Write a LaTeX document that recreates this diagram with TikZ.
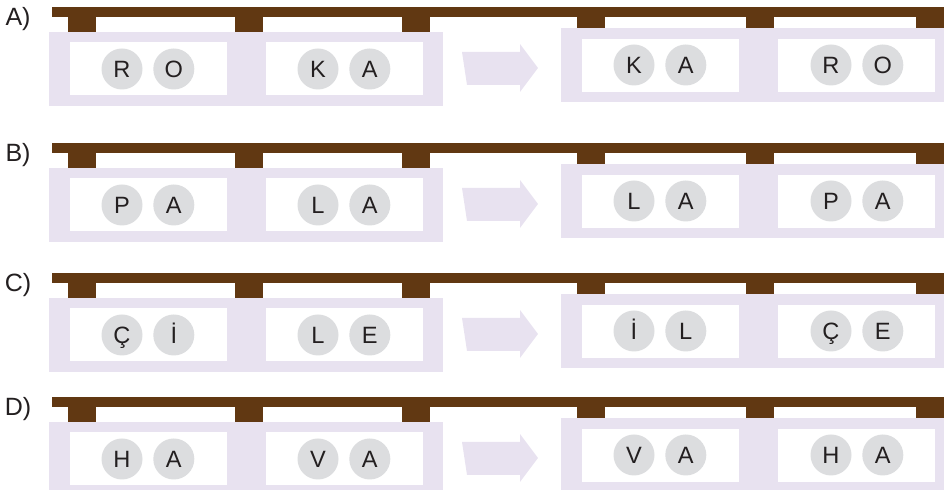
\documentclass[tikz,border=0pt]{standalone}
\usepackage{fontspec}
\setmainfont{Liberation Sans}
\usetikzlibrary{positioning}
\definecolor{beam}{RGB}{97,56,18}
\definecolor{frame}{RGB}{232,226,240}
\definecolor{chip}{RGB}{220,221,223}
\definecolor{ink}{RGB}{35,31,32}
\tikzset{
  beamline/.style={fill=beam},
  wagon/.style={fill=frame},
  seat/.style={fill=white},
  swaparrow/.style={fill=frame},
  letter/.style={circle, fill=chip, minimum size=20.5pt, inner sep=0pt, text=ink, text height=8.4pt, text depth=0pt, font=\fontsize{11.8}{14}\selectfont},
  rowlabel/.style={text=ink, font=\fontsize{12.5}{15}\selectfont}
}

\begin{document}
\begin{tikzpicture}[x=0.5pt,y=-0.5pt]
  \useasboundingbox (0,0) rectangle (944,490);
  \foreach \r/\off/\lab/\la/\lb/\lc/\ld/\ra/\rb/\rc/\rd in {%
    A/0/A)/R/O/K/A/K/A/R/O,
    B/136/B)/P/A/L/A/L/A/P/A,
    C/266/C)/Ç/İ/L/E/İ/L/Ç/E,
    D/390/D)/H/A/V/A/V/A/H/A}{
  \begin{scope}[shift={(0,\off)}]
    \node[rowlabel] (lab\r) at (18,19) {\lab};
    % beam and hangers
    \fill[beamline] (52,7) rectangle (944,17);
    \foreach \x in {68,235,402} \fill[beamline] (\x,17) rectangle ++(28,15);
    \foreach \x in {577,746,916} \fill[beamline] (\x,17) rectangle ++(28,11);
    % left wagon
    \fill[wagon] (49,32) rectangle (443,106);
    \fill[seat] (70,42) rectangle (227,95);
    \fill[seat] (266,42) rectangle (423,95);
    % right wagon
    \fill[wagon] (561,28) rectangle (944,102);
    \fill[seat] (582,39) rectangle (739,92);
    \fill[seat] (778,39) rectangle (935,92);
    \fill[swaparrow] (462,52) -- (520,52) -- (520,44) -- (538,68) -- (520,92) -- (520,85) -- (467,85) -- cycle;
    \node[letter] (l1\r) at (122,69) {\la};
    \node[letter,right=5pt of l1\r] (l2\r) {\lb};
    \node[letter] (l3\r) at (318,69) {\lc};
    \node[letter,right=5pt of l3\r] (l4\r) {\ld};
    \node[letter] (r1\r) at (634,65) {\ra};
    \node[letter,right=5pt of r1\r] (r2\r) {\rb};
    \node[letter] (r3\r) at (831,65) {\rc};
    \node[letter,right=5pt of r3\r] (r4\r) {\rd};
  \end{scope}
  }
\end{tikzpicture}
\end{document}
